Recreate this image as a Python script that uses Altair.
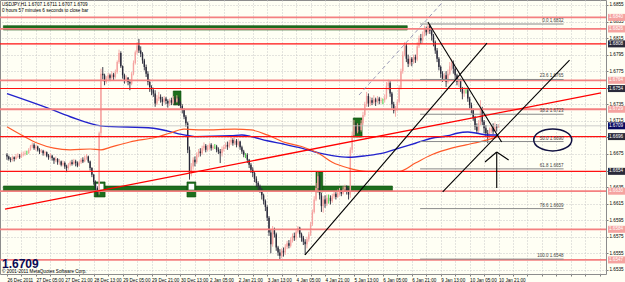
import json
import altair as alt
import pandas as pd

# ---------------- data (prices in pips above 1.6000) ----------------
BASE = 1.6
PIP = 0.0001
OPEN_FIRST = 674
CLOSE = [672,669,668,671,669,672,673,671,674,675,676,676,680,684,686,682,684,680,678,679,
         676,677,673,671,673,670,667,669,665,666,662,664,660,658,662,665,663,666,664,661,
         665,668,666,670,672,666,658,650,641,634,630,700,772,770,762,766,770,767,771,768,
         774,786,797,781,770,764,767,762,760,772,785,798,806,800,796,788,780,772,762,756,
         752,748,736,742,744,741,738,742,739,736,740,737,741,738,742,737,733,728,720,712,
         680,652,660,668,665,674,678,676,682,685,680,683,686,682,684,684,680,678,676,681,
         683,686,684,689,692,688,691,686,690,683,678,674,674,668,662,656,652,645,640,636,
         632,625,618,611,598,580,566,583,578,562,556,552,558,556,563,567,564,571,576,574,
         581,586,578,574,569,566,572,578,590,605,620,634,648,625,612,620,615,622,622,618,
         624,627,623,628,631,627,632,635,630,626,680,698,710,702,708,704,712,722,735,745,
         736,740,737,741,738,742,739,740,740,743,757,761,748,735,727,730,738,755,775,795,
         806,790,784,790,786,792,789,805,815,812,820,826,822,830,824,818,810,800,790,780,
         772,766,770,762,772,781,785,778,770,762,765,754,748,752,752,742,734,728,718,708,
         703,712,730,714,706,700,697,703,706,702,708,707,709]
HIGH = [676,673,671,673,672,675,676,675,677,678,679,679,682,686,689,688,686,685,682,681,
        680,679,678,675,676,674,671,672,670,669,667,667,666,662,664,667,668,669,668,666,
        667,670,671,673,675,673,667,659,651,643,636,702,778,780,772,769,773,772,775,773,
        777,788,801,799,782,772,770,768,765,774,788,800,810,814,805,798,790,783,775,765,
        758,755,752,746,750,747,744,745,744,741,742,743,745,744,746,744,739,735,730,722,
        714,684,664,671,672,677,681,682,685,689,687,686,688,688,686,687,686,683,681,684,
        686,689,690,692,696,694,695,693,693,691,685,680,676,676,669,664,659,654,648,642,
        638,634,627,620,613,600,584,588,586,580,564,560,561,562,566,570,571,574,579,580,
        584,588,587,580,576,572,575,581,593,608,624,640,653,650,628,624,625,626,626,625,
        627,630,629,632,634,633,636,638,637,634,683,702,716,713,712,711,716,726,738,750,
        748,744,743,746,743,745,744,743,742,747,762,765,763,750,738,733,741,758,778,799,
        810,808,795,793,792,795,795,810,818,820,823,830,829,832,832,826,820,812,803,792,
        782,775,773,775,777,786,790,788,780,772,768,766,756,756,755,754,744,737,730,721,
        712,716,740,732,716,710,704,707,710,712,713,711,711]
LOW = [668,667,665,666,666,668,670,669,670,672,673,674,675,679,682,680,679,678,675,676,
       673,673,671,668,669,667,663,665,662,662,660,660,657,653,656,660,661,662,660,659,
       660,663,664,665,668,664,655,647,638,630,624,626,696,765,758,760,764,763,765,764,
       766,772,784,779,766,760,761,758,752,758,770,783,795,797,792,784,776,768,758,750,
       746,744,732,734,739,737,733,736,735,731,733,734,735,734,737,733,730,724,717,708,
       676,644,648,656,660,663,671,672,674,679,677,678,680,679,680,681,677,675,664,672,
       678,681,680,682,686,685,686,683,684,680,675,671,670,664,658,652,647,641,635,631,
       628,620,614,606,594,576,555,563,574,558,552,548,549,551,553,560,561,562,568,570,
       571,579,574,569,565,553,561,569,576,588,603,618,630,620,605,604,610,612,615,614,
       616,621,620,622,625,624,626,629,626,620,622,676,695,698,700,699,702,710,720,732,
       732,733,734,735,733,736,735,736,735,737,741,752,744,730,724,720,727,736,753,772,
       793,786,780,782,781,784,785,787,803,808,809,817,818,820,820,812,805,796,786,776,
       767,762,763,756,760,770,776,772,765,758,756,750,741,744,748,738,730,724,715,704,
       700,700,710,710,700,696,688,694,700,699,703,702,707]

DATE_LABELS = ["26 Dec 2011", "27 Dec 05:00", "27 Dec 21:00", "28 Dec 13:00", "29 Dec 05:00",
               "29 Dec 21:00", "30 Dec 13:00", "2 Jan 05:00", "2 Jan 21:00", "3 Jan 13:00",
               "4 Jan 05:00", "4 Jan 21:00", "5 Jan 13:00", "6 Jan 05:00", "6 Jan 21:00",
               "9 Jan 13:00", "10 Jan 05:00", "10 Jan 21:00"]
BARS_PER_LABEL = 16
GRID_BARS = list(range(0, 329, 8))
PRICE_TICKS = [1.6535, 1.6555, 1.6575, 1.6595, 1.6615, 1.6635, 1.6655, 1.6675, 1.6695,
               1.6715, 1.6735, 1.6755, 1.6775, 1.6795, 1.6815, 1.6835, 1.6855]

RED_LEVELS = [1.6808, 1.6754, 1.6696, 1.6654]
SALMON_LEVELS = [1.6840, 1.6826, 1.6764, 1.6729, 1.6630, 1.6584, 1.6547]
BID = 1.6709

FIB_NAMES = ["0.0", "23.6", "38.2", "50.0", "61.8", "78.6", "100.0"]
FIB_PRICES = [1.6832, 1.6765, 1.6723, 1.6690, 1.6657, 1.6609, 1.6548]
FIB_FROM, FIB_TO = 228.6, 308

BLUE_MA_BARS = [0, 22, 35, 52, 81, 98, 104, 124, 130, 135, 144, 153, 163, 168, 173, 180, 189,
                199, 208, 217, 226, 235, 244, 249, 255, 260, 266, 272]
BLUE_MA_PIPS = [748, 731, 720, 709, 706, 698, 696, 697, 698, 696, 691, 687, 682, 679, 676, 673,
                671, 673, 676, 682, 688, 694, 697, 700, 701.5, 700, 698, 698]
ORANGE_MA_BARS = [0, 8, 17, 26, 35, 46, 52, 57, 68, 83, 90, 98, 108, 126, 135, 144, 153, 163,
                  173, 180, 189, 199, 217, 226, 235, 246, 254, 262, 271]
ORANGE_MA_PIPS = [708, 698, 688, 682, 680, 681, 680, 683, 689.5, 695.5, 700, 705, 704, 705, 704,
                  698, 689.5, 684, 675, 665, 658, 654, 654, 664, 674, 682, 686, 690, 695]

# green zones: bar from, bar to, price low, price high
GREEN_X1 = [-2, -2, 92, 191.6, 171, 48.3, 99.6]
GREEN_X2 = [221.5, 213.3, 96.3, 196.5, 174.7, 54.3, 104.5]
GREEN_Y1 = [1.68248, 1.66303, 1.67342, 1.66955, 1.66291, 1.66230, 1.66230]
GREEN_Y2 = [1.68300, 1.66363, 1.67511, 1.67185, 1.66532, 1.66412, 1.66412]
WHITE_X1 = [49.2, 100.5]
WHITE_X2 = [53.4, 103.6]
WHITE_Y1 = [1.66318, 1.66318]
WHITE_Y2 = [1.66390, 1.66390]

TREND_NAMES = ["rising1", "rising2", "falling", "arrow_stem", "arrow_l", "arrow_r"]
TREND_B1 = [164.9, 241.1, 232.9, 271.0, 264.5, 277.6]
TREND_P1 = [1.65530, 1.66291, 1.68344, 1.66339, 1.66653, 1.66677]
TREND_B2 = [265.6, 311.3, 273.7, 271.0, 271.0, 271.0]
TREND_P2 = [1.68090, 1.67885, 1.66895, 1.66774, 1.66774, 1.66774]
RED_TREND = ([-1.1, 328.7], [1.66085, 1.67487])
DASH_TREND = ([194.8, 241.1], [1.67462, 1.68586])
ELLIPSE_BAR, ELLIPSE_PRICE = 302, 1.6692

TITLE1 = "USDJPY,H1  1.6707 1.6711 1.6707 1.6709"
TITLE2 = "0 hours 57 minutes 6 seconds to close bar"
COPYRIGHT = "\u00a9 2001-2011 MetaQuotes Software Corp."

# ---------------- frames ----------------
FONT = "Liberation Sans"
W, H = 606, 274
PX_PER_PRICE = H / (1.6861 - 1.6530)
xs = alt.Scale(domain=[-1.09, 328.7], nice=False, zero=False)
ys = alt.Scale(domain=[1.6530, 1.6861], nice=False, zero=False)

opens = [OPEN_FIRST] + CLOSE[:-1]
cd = pd.DataFrame({
    "bar": list(range(len(CLOSE))),
    "open": [BASE + v * PIP for v in opens],
    "close": [BASE + v * PIP for v in CLOSE],
    "high": [BASE + v * PIP for v in HIGH],
    "low": [BASE + v * PIP for v in LOW],
})
cd["dir"] = ["up" if c > o else ("down" if c < o else "doji") for o, c in zip(cd["open"], cd["close"])]

# price labels hidden behind the coloured price boxes (as in the terminal)
hidden = [t for t in PRICE_TICKS
          if any(abs(t - l) * PX_PER_PRICE < 3 for l in RED_LEVELS + SALMON_LEVELS + [BID])]
y_label_expr = ("indexof(" + json.dumps([f"{t:.4f}" for t in hidden]) +
                ", format(datum.value, '.4f')) >= 0 ? '' : format(datum.value, '.4f')")

last_label_bar = BARS_PER_LABEL * (len(DATE_LABELS) - 1)
label_expr = ("(datum.value % " + str(BARS_PER_LABEL) + " === 0 && datum.value <= " + str(last_label_bar)
              + ") ? " + json.dumps(DATE_LABELS) + "[datum.value / " + str(BARS_PER_LABEL) + "] : ''")
x_axis = alt.Axis(values=GRID_BARS, labelExpr=label_expr, labelAlign="left", labelBaseline="top",
                  labelPadding=1, tickSize=2, labelFontSize=4.6, labelFont=FONT, labelColor="#000000",
                  labelOverlap=False, labelFlush=False, grid=True, gridColor="#c8c8c8",
                  gridDash=[1, 2], domain=False, title=None, tickColor="#808080")
y_axis = alt.Axis(orient="right", values=PRICE_TICKS, labelExpr=y_label_expr, labelFontSize=4.6,
                  labelFont=FONT, labelColor="#000000", labelPadding=1, tickSize=2,
                  labelOverlap=False, grid=True, gridColor="#c8c8c8", gridDash=[1, 2],
                  domain=False, title=None, tickColor="#808080")


def X(field):
    return alt.X(field, scale=xs, axis=x_axis)


def Y(field):
    return alt.Y(field, scale=ys, axis=y_axis)


dir_col_wick = alt.Color("dir:N", scale=alt.Scale(domain=["up", "down", "doji"],
                         range=["#f5a3a0", "#2a2a3a", "#33cc33"]), legend=None)
dir_col_body = alt.Color("dir:N", scale=alt.Scale(domain=["up", "down", "doji"],
                         range=["#f7b2ae", "#0c0c70", "#33cc33"]), legend=None)

green = pd.DataFrame({"x1": GREEN_X1, "x2": GREEN_X2, "y1": GREEN_Y1, "y2": GREEN_Y2})
white = pd.DataFrame({"x1": WHITE_X1, "x2": WHITE_X2, "y1": WHITE_Y1, "y2": WHITE_Y2})

green_layer = alt.Chart(green).mark_rect(color="#1d6e1d", stroke="#0b4d0b", strokeWidth=0.6).encode(
    x=X("x1:Q"), x2="x2:Q", y=Y("y1:Q"), y2="y2:Q")
white_layer = alt.Chart(white).mark_rect(color="#ffffff").encode(
    x=X("x1:Q"), x2="x2:Q", y=Y("y1:Q"), y2="y2:Q")

wicks = alt.Chart(cd).mark_rule(strokeWidth=0.9).encode(
    x=X("bar:Q"), y=Y("low:Q"), y2="high:Q", color=dir_col_wick)
bodies = alt.Chart(cd).mark_bar(size=1.4).encode(
    x=X("bar:Q"), y=Y("open:Q"), y2="close:Q", color=dir_col_body)

blue = pd.DataFrame({"bar": BLUE_MA_BARS, "p": [BASE + v * PIP for v in BLUE_MA_PIPS]})
orange = pd.DataFrame({"bar": ORANGE_MA_BARS, "p": [BASE + v * PIP for v in ORANGE_MA_PIPS]})
blue_layer = alt.Chart(blue).mark_line(color="#2222cc", strokeWidth=1.4, interpolate="monotone").encode(
    x=X("bar:Q"), y=Y("p:Q"))
orange_layer = alt.Chart(orange).mark_line(color="#ff5a2a", strokeWidth=1.2, interpolate="monotone").encode(
    x=X("bar:Q"), y=Y("p:Q"))

red_df = pd.DataFrame({"p": RED_LEVELS})
salmon_df = pd.DataFrame({"p": SALMON_LEVELS})
bid_df = pd.DataFrame({"p": [BID]})
salmon_lines = alt.Chart(salmon_df).mark_rule(color="#f48080", strokeWidth=1.8).encode(y=Y("p:Q"))
red_lines = alt.Chart(red_df).mark_rule(color="#ff1010", strokeWidth=1.1).encode(y=Y("p:Q"))
bid_line = alt.Chart(bid_df).mark_rule(color="#c0c0c0", strokeWidth=0.8).encode(y=Y("p:Q"))

fib = pd.DataFrame({"name": FIB_NAMES, "p": FIB_PRICES})
fib["label"] = [f"{n} {p:.4f}" for n, p in zip(FIB_NAMES, FIB_PRICES)]
fib["x1"] = FIB_FROM
fib["x2"] = FIB_TO
fib_lines = alt.Chart(fib).mark_rule(color="#8a8a8a", strokeWidth=1).encode(
    x=X("x1:Q"), x2="x2:Q", y=Y("p:Q"))
fib_text = alt.Chart(fib).mark_text(align="right", baseline="bottom", dy=-1, fontSize=4.5,
                                    font=FONT, color="#404040").encode(
    x=X("x2:Q"), y=Y("p:Q"), text="label:N")

rows = []
for n, b1, p1, b2, p2 in zip(TREND_NAMES, TREND_B1, TREND_P1, TREND_B2, TREND_P2):
    rows.append({"id": n, "bar": b1, "p": p1})
    rows.append({"id": n, "bar": b2, "p": p2})
tr = pd.DataFrame(rows)
black_lines = alt.Chart(tr).mark_line(color="#000000", strokeWidth=1.1, clip=True).encode(
    x=X("bar:Q"), y=Y("p:Q"), detail="id:N")
red_tr = pd.DataFrame({"bar": RED_TREND[0], "p": RED_TREND[1]})
red_trend = alt.Chart(red_tr).mark_line(color="#ff0000", strokeWidth=1.3, clip=True).encode(
    x=X("bar:Q"), y=Y("p:Q"))
dash_tr = pd.DataFrame({"bar": DASH_TREND[0], "p": DASH_TREND[1]})
dash_trend = alt.Chart(dash_tr).mark_line(color="#9090b0", strokeWidth=0.9, strokeDash=[4, 3], clip=True).encode(
    x=X("bar:Q"), y=Y("p:Q"))

ell = pd.DataFrame({"bar": [ELLIPSE_BAR], "p": [ELLIPSE_PRICE]})
ellipse = alt.Chart(ell).mark_point(
    shape="M-1,0A1,0.58,0,1,1,1,0A1,0.58,0,1,1,-1,0Z", size=1444, filled=False,
    color="#101040", strokeWidth=1.5, opacity=1).encode(x=X("bar:Q"), y=Y("p:Q"))

# right-hand price boxes
box_df = pd.DataFrame({
    "p": SALMON_LEVELS + RED_LEVELS,
    "kind": ["salmon"] * len(SALMON_LEVELS) + ["red"] * len(RED_LEVELS),
})
box_df["txt"] = [f"{v:.4f}" for v in box_df["p"]]
boxes = alt.Chart(box_df).mark_rule(strokeWidth=7, strokeCap="butt").encode(
    x=alt.value(W + 2), x2=alt.value(W + 19), y=Y("p:Q"),
    color=alt.Color("kind:N", scale=alt.Scale(domain=["salmon", "red"], range=["#f06868", "#ff0000"]), legend=None))
box_txt = alt.Chart(box_df).mark_text(align="left", baseline="middle", fontSize=4.6, font=FONT,
                                      color="#ffffff").encode(
    x=alt.value(W + 3), y=Y("p:Q"), text="txt:N")
bid_df["txt"] = [f"{BID:.4f}"]
bid_box = alt.Chart(bid_df).mark_rule(strokeWidth=7, strokeCap="butt", color="#0a0a60").encode(
    x=alt.value(W + 2), x2=alt.value(W + 19), y=Y("p:Q"))
bid_txt = alt.Chart(bid_df).mark_text(align="left", baseline="middle", fontSize=4.6, font=FONT,
                                      color="#ffffff").encode(
    x=alt.value(W + 3), y=Y("p:Q"), text="txt:N")


def note(text, x, y, size, bold=False, color="#000000"):
    return alt.Chart(pd.DataFrame({"t": [text]})).mark_text(
        align="left", baseline="top", fontSize=size, font=FONT,
        fontWeight="bold" if bold else "normal", color=color).encode(
        x=alt.value(x), y=alt.value(y), text="t:N")


t1 = note(TITLE1, 2, 2, 4.6)
t2 = note(TITLE2, 2, 8, 4.6)
big = note(f"{BID:.4f}", 2, 259, 12, bold=True, color="#0a0a55")
copy_t = note(COPYRIGHT, 2, 269, 4.6)

chart = alt.layer(
    green_layer, white_layer, wicks, bodies, blue_layer, orange_layer,
    salmon_lines, red_lines, bid_line, fib_lines, fib_text, red_trend, black_lines, dash_trend,
    ellipse, boxes, box_txt, bid_box, bid_txt, t1, t2, copy_t, big,
).properties(
    width=W, height=H, padding={"left": 0, "top": 0, "right": 19, "bottom": 8},
    autosize=alt.AutoSizeParams(type="none"), background="#fffff4",
).configure_view(stroke="#8c8c8c", strokeWidth=1, fill="#fffff4")

chart.save("out.html", embed_options={"renderer": "svg", "actions": False})
